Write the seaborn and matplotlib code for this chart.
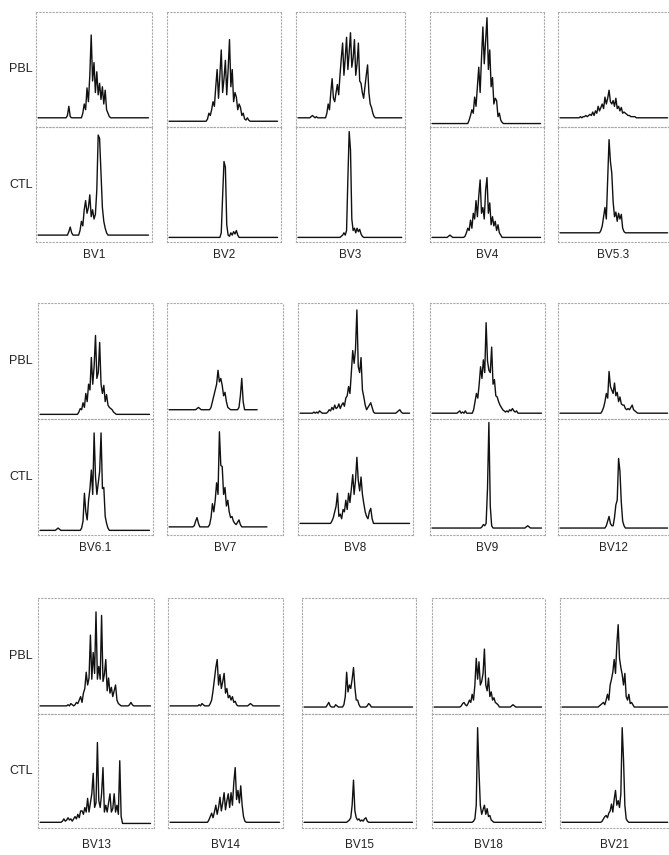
import numpy as np
import pandas as pd
import matplotlib
matplotlib.use("Agg")
import matplotlib.pyplot as plt
import seaborn as sns

# ---------------- data: trace heights (% of panel height) ----------------
bv1_pbl = [8,8,8,8,8,8,8,8,8,8, 8,8,8,8,8,8,8,8,8,8, 8,10,18,9,8,8,8,8,8,8,
           8,8,12,20,15,34,22,45,80,40, 56,30,48,28,38,24,35,20,32,15,
           12,9,8,8,8,8,8,8,8,8, 8,8,8,8,8,8,8,8,8,8, 8,8,8,8,8,8,8,8,8,8]
bv1_ctl = [6,6,6,6,6,6,6,6,6,6, 6,6,6,6,6,6,6,6,6,6, 6,6,9,13,8,6,6,6,6,6,
           10,18,14,28,36,25,30,41,22,28, 20,24,45,93,90,60,30,18,12,8,
           6,6,6,6,6,6,6,6,6,6, 6,6,6,6,6,6,6,6,6,6, 6,6,6,6,6,6,6,6,6,6]
bv2_pbl = [5,5,5,5,5,5,5,5,5,5, 5,5,5,5,5,5,5,5,5,5, 5,5,5,5,5,5,5,5,7,12,
           10,15,22,18,35,50,25,45,67,30, 42,58,28,50,76,35,50,22,30,26,
           15,20,17,10,12,7,6,8,6,5, 5,5,5,5,5,5,5,5,5,5, 5,5,5,5,5,5,5,5,5,5]
bv2_ctl = [4,4,4,4,4,4,4,4,4,4, 4,4,4,4,4,4,4,4,4,4, 4,4,4,4,4,4,4,4,4,4,
           4,4,4,4,4,4,4,4,8,40, 70,65,15,6,5,8,6,9,7,10,
           6,4,4,4,4,4,4,4,4,4, 4,4,4,4,4,4,4,4,4,4, 4,4,4,4,4,4,4,4,4,4]
bv3_pbl = [8,8,8,8,8,8,8,8,8,8, 9,10,9,8,9,8,8,8,8,8, 8,8,12,20,15,30,42,25,22,30,
           37,28,45,60,73,45,60,78,50,65, 82,52,60,76,45,55,73,40,38,30,
           25,35,45,54,30,20,17,12,9,8, 8,8,8,8,8,8,8,8,8,8, 8,8,8,8,8,8,8,8,8,8]
bv3_ctl = [4,4,4,4,4,4,4,4,4,4, 4,4,4,4,4,4,4,4,4,4, 4,4,4,4,4,4,4,4,4,4,
           4,4,4,5,6,8,6,10,55,96, 80,20,10,12,8,12,9,11,7,5,
           4,4,4,4,4,4,4,4,4,4, 4,4,4,4,4,4,4,4,4,4, 4,4,4,4,4,4,4,4,4,4]
bv4_pbl = [3,3,3,3,3,3,3,3,3,3, 3,3,3,3,3,3,3,3,3,3, 3,3,3,3,3,3,3,6,10,15,
           12,26,18,35,52,30,60,87,55,75, 95,50,67,35,43,20,25,23,9,12,
           6,4,3,3,3,3,3,3,3,3, 3,3,3,3,3,3,3,3,3,3, 3,3,3,3,3,3,3,3,3,3]
bv4_ctl = [4,4,4,4,4,4,4,4,4,4, 4,4,5,6,5,4,4,4,4,4, 4,4,4,4,5,8,12,10,19,12,
           25,20,36,22,40,54,25,30,20,45, 56,25,34,15,22,14,18,10,15,8,
           6,4,4,4,4,4,4,4,4,4, 4,4,4,4,4,4,4,4,4,4, 4,4,4,4,4,4,4,4,4,4]
bv53_pbl = [8,8,8,8,8,8,8,8,8,8, 8,8,8,8,8,9,8,9,9,10, 9,10,11,10,13,10,14,12,18,14,
            17,20,16,26,20,25,32,22,20,23, 18,25,16,18,14,17,12,13,12,11,
            10,10,9,9,9,9,8,8,8,8, 8,8,8,8,8,8,8,8,8,8, 8,8,8,8,8,8,8,8,8,8]
bv53_ctl = [8,8,8,8,8,8,8,8,8,8, 8,8,8,8,8,8,8,8,8,8, 8,8,8,8,8,8,8,8,8,8,
            10,14,22,30,20,55,89,70,60,35, 22,26,18,25,20,24,12,9,8,8,
            8,8,8,8,8,8,8,8,8,8, 8,8,8,8,8,8,8,8,8,8, 8,8,8,8,8,8,8,8,8,8]

bv61_pbl = [4,4,4,4,4,4,4,4,4,4, 4,4,4,4,4,4,4,4,4,4, 4,4,4,4,4,4,4,4,6,9,
            8,14,10,22,15,30,25,53,30,45, 72,35,40,66,30,22,29,15,21,12,
            10,9,8,6,5,4,4,4,4,4, 4,4,4,4,4,4,4,4,4,4, 4,4,4,4,4,4,4,4,4,4]
bv61_ctl = [4,4,4,4,4,4,4,4,4,4, 4,4,5,6,5,4,4,4,4,4, 4,4,4,4,4,4,4,4,4,4,
            6,12,36,20,13,30,40,56,35,88, 50,35,45,55,88,40,41,16,10,6,
            4,4,4,4,4,4,4,4,4,4, 4,4,4,4,4,4,4,4,4,4, 4,4,4,4,4,4,4,4,4,4]
bv7_pbl = [8,8,8,8,8,8,8,8,8,8, 8,8,8,8,8,8,8,8,8,8, 9,10,9,8,8,8,8,8,8,8,
           10,15,20,25,30,42,32,35,29,20, 23,15,10,9,8,8,8,8,8,8,
           10,20,35,15,8,8,8,8,8,8, 8,8,8,8]
bv7_ctl = [7,7,7,7,7,7,7,7,7,7, 7,7,7,7,7,7,7,7,8,12, 15,10,7,7,7,7,7,7,7,9,
           15,27,20,30,45,35,89,60,59,35, 41,25,30,20,15,16,12,10,9,11,
           13,9,7,7,7,7,7,7,7,7, 7,7,7,7,7,7,7,7,7,7, 7]
bv8_pbl = [5,5,5,5,5,5,5,5,5,5, 6,5,6,5,7,6,5,5,5,5, 6,8,7,10,8,12,9,10,13,9,
           12,14,11,18,20,28,22,40,59,48, 60,94,45,40,53,25,19,12,8,10,
           12,14,10,6,5,5,5,5,5,5, 5,5,5,5,5,5,5,5,5,5, 6,7,8,6,5,5,5,5,5,5]
bv8_ctl = [10,10,10,10,10,10,10,10,10,10, 10,10,10,10,10,10,10,10,10,10,
           10,10,10,12,15,20,25,36,16,18, 14,22,20,30,22,36,28,40,52,35,
           47,67,47,38,50,35,27,20,16,14, 20,23,14,10,10,10,10,10,10,10,
           10,10,10,10,10,10,10,10,10,10, 10,10,10,10,10,10,10,10,10,10]
bv9_pbl = [5,5,5,5,5,5,5,5,5,5, 5,5,5,5,5,5,5,5,5,6, 7,5,6,5,7,5,5,5,5,5,
           8,15,22,18,30,45,35,51,40,83, 50,42,40,62,30,34,20,19,15,12,
           10,8,7,6,7,6,8,7,9,7, 6,7,5,5,5,5,5,5,5,5, 5,5,5,5,5,5,5,5,5,5]
bv9_ctl = [6,6,6,6,6,6,6,6,6,6, 6,6,6,6,6,6,6,6,6,6, 6,6,6,6,6,6,6,6,6,6,
           6,6,6,6,6,6,7,9,8,10, 40,97,25,8,6,6,6,6,6,6,
           6,6,6,6,6,6,6,6,6,6, 6,6,6,6,6,6,6,6,7,8, 7,6,6,6,6,6,6,6,6,6]
bv12_pbl = [5,5,5,5,5,5,5,5,5,5, 5,5,5,5,5,5,5,5,5,5, 5,5,5,5,5,5,5,5,5,5,
            5,7,10,15,22,18,41,28,25,22, 31,20,23,15,19,13,12,12,9,8,
            9,8,10,12,8,7,6,5,5,5, 5,5,5,5,5,5,5,5,5,5, 5,5,5,5,5,5,5,5,5,5]
bv12_ctl = [6,6,6,6,6,6,6,6,6,6, 6,6,6,6,6,6,6,6,6,6, 6,6,6,6,6,6,6,6,6,6,
            6,6,6,6,8,12,16,10,8,8, 15,26,30,66,55,28,12,8,6,6,
            6,6,6,6,6,6,6,6,6,6, 6,6,6,6,6,6,6,6,6,6, 6,6,6,6,6,6,6,6,6,6]

bv13_pbl = [7,7,7,7,7,7,7,7,7,7, 7,7,7,7,7,7,7,7,7,7, 8,7,9,8,7,8,10,9,12,15,
            10,18,22,36,25,31,68,30,53,35, 88,30,41,30,85,28,34,47,20,31,
            18,23,15,20,25,12,9,8,7,7, 7,7,7,7,8,10,8,7,7,7, 7,7,7,7,7,7,7,7,7,7]
bv13_ctl = [5,5,5,5,5,5,5,5,5,5, 5,5,5,5,5,5,6,8,6,7, 9,7,8,6,8,10,8,12,9,15,
            15,12,18,14,26,14,22,30,48,18, 22,75,24,18,30,53,14,20,14,22,
            30,14,17,30,14,20,12,59,10,4, 4,4,4,4,4,4,4,4,4,4, 4,4,4,4,4,4,4,4,4,4]
bv14_pbl = [7,7,7,7,7,7,7,7,7,7, 7,7,7,7,7,7,7,7,7,7, 7,8,7,9,8,7,7,7,7,9,
            12,20,30,40,47,25,34,22,28,35, 18,22,14,16,12,15,10,11,8,7,
            7,7,7,7,7,7,7,8,9,8, 7,7,7,7,7,7,7,7,7,7, 7,7,7,7,7,7,7,7,7,7]
bv14_ctl = [5,5,5,5,5,5,5,5,5,5, 5,5,5,5,5,5,5,5,5,5, 5,5,5,5,5,5,5,5,7,10,
            13,9,14,20,12,18,27,15,22,31, 16,24,30,18,31,20,40,53,25,33,
            22,37,20,10,6,5,5,5,5,5, 5,5,5,5,5,5,5,5,5,5, 5,5,5,5,5,5,5,5,5,5]
bv15_pbl = [6,6,6,6,6,6,6,6,6,6, 6,6,6,6,6,6,6,8,10,7, 6,6,6,8,7,6,6,6,6,8,
            15,36,19,25,22,30,40,23,12,12, 8,6,6,6,6,6,7,9,8,6,
            6,6,6,6,6,6,6,6,6,6, 6,6,6,6,6,6,6,6,6,6, 6,6,6,6,6,6,6,6,6,6]
bv15_ctl = [5,5,5,5,5,5,5,5,5,5, 5,5,5,5,5,5,5,5,5,5, 5,5,5,5,5,5,5,5,5,5,
            5,5,6,7,9,20,42,15,9,7, 8,6,7,6,8,9,6,5,5,5,
            5,5,5,5,5,5,5,5,5,5, 5,5,5,5,5,5,5,5,5,5, 5,5,5,5,5,5,5,5,5,5]
bv18_pbl = [6,6,6,6,6,6,6,6,6,6, 6,6,6,6,6,6,6,6,6,6, 7,9,10,8,7,9,12,10,17,12,
            25,48,30,45,25,28,35,56,25,20, 31,15,19,12,14,10,9,8,6,6,
            6,6,6,6,6,6,6,7,8,7, 6,6,6,6,6,6,6,6,6,6, 6,6,6,6,6,6,6,6,6,6]
bv18_ctl = [5,5,5,5,5,5,5,5,5,5, 5,5,5,5,5,5,5,5,5,5, 5,5,5,5,5,5,5,5,5,6,
            8,20,88,50,20,12,16,20,12,17, 10,11,7,6,5,5,5,5,5,5,
            5,5,5,5,5,5,5,5,5,5, 5,5,5,5,5,5,5,5,5,5, 5,5,5,5,5,5,5,5,5,5]
bv21_pbl = [6,6,6,6,6,6,6,6,6,6, 6,6,6,6,6,6,6,6,6,6, 6,6,6,6,6,6,6,6,7,8,
            9,10,8,12,17,12,25,30,36,47, 35,60,77,48,40,34,25,35,15,12,
            17,9,10,8,6,6,6,6,6,6, 6,6,6,6,6,6,6,6,6,6, 6,6,6,6,6,6,6,6,6,6]
bv21_ctl = [5,5,5,5,5,5,5,5,5,5, 5,5,5,5,5,5,5,5,5,5, 5,5,5,5,5,5,5,5,5,5,
            6,8,10,11,9,13,15,21,14,25, 33,20,24,18,30,88,60,20,8,6,
            5,5,5,5,5,5,5,5,5,5, 5,5,5,5,5,5,5,5,5,5, 5,5,5,5,5,5,5,5,5,5]

group1_labels = ["BV1", "BV2", "BV3", "BV4", "BV5.3"]
group2_labels = ["BV6.1", "BV7", "BV8", "BV9", "BV12"]
group3_labels = ["BV13", "BV14", "BV15", "BV18", "BV21"]
row_labels = ["PBL", "CTL"]

group1_pbl = [bv1_pbl, bv2_pbl, bv3_pbl, bv4_pbl, bv53_pbl]
group1_ctl = [bv1_ctl, bv2_ctl, bv3_ctl, bv4_ctl, bv53_ctl]
group2_pbl = [bv61_pbl, bv7_pbl, bv8_pbl, bv9_pbl, bv12_pbl]
group2_ctl = [bv61_ctl, bv7_ctl, bv8_ctl, bv9_ctl, bv12_ctl]
group3_pbl = [bv13_pbl, bv14_pbl, bv15_pbl, bv18_pbl, bv21_pbl]
group3_ctl = [bv13_ctl, bv14_ctl, bv15_ctl, bv18_ctl, bv21_ctl]

# ---------------- layout (pixels) ----------------
W, H = 669, 855
sns.set_style("white")
plt.rcParams["font.family"] = ["Liberation Sans", "DejaVu Sans"]

fig = plt.figure(figsize=(W / 100, H / 100), dpi=100)

groups = [
    dict(labels=group1_labels, pbl=group1_pbl, ctl=group1_ctl,
         cols=[(36, 152), (167, 281), (296, 405), (430, 544), (558, 671)],
         top=12, mid=127, bot=242, lab_y=255),
    dict(labels=group2_labels, pbl=group2_pbl, ctl=group2_ctl,
         cols=[(38, 153), (167, 283), (298, 413), (430, 545), (558, 671)],
         top=303, mid=419, bot=535, lab_y=548),
    dict(labels=group3_labels, pbl=group3_pbl, ctl=group3_ctl,
         cols=[(38, 154), (168, 283), (302, 416), (432, 545), (560, 671)],
         top=598, mid=714, bot=828, lab_y=845),
]

spine_color = "#a8a8a8"


def make_ax(x0, x1, ytop, ybot):
    ax = fig.add_axes([x0 / W, 1 - ybot / H, (x1 - x0) / W, (ybot - ytop) / H])
    ax.set_xlim(-1.5, 81.5)
    ax.set_ylim(0, 100)
    ax.set_xticks([])
    ax.set_yticks([])
    ax.patch.set_alpha(0)
    for s in ax.spines.values():
        s.set_visible(True)
        s.set_color(spine_color)
        s.set_linewidth(0.8)
        s.set_linestyle((0, (1, 2)))
    return ax


def draw_trace(ax, values):
    df = pd.DataFrame({"pos": np.arange(len(values)), "signal": values})
    sns.lineplot(data=df, x="pos", y="signal", ax=ax, color="#111111",
                 linewidth=1.0, estimator=None)
    ax.set_xlabel("")
    ax.set_ylabel("")


for g in groups:
    for (x0, x1), lab, vp, vc in zip(g["cols"], g["labels"], g["pbl"], g["ctl"]):
        ax_top = make_ax(x0, x1, g["top"], g["mid"])
        draw_trace(ax_top, vp)
        ax_bot = make_ax(x0, x1, g["mid"], g["bot"])
        draw_trace(ax_bot, vc)
        fig.text(((x0 + min(x1, 669)) / 2) / W, 1 - g["lab_y"] / H, lab,
                 ha="center", va="center", fontsize=8.5, color="#222222")
    fig.text(33 / W, 1 - ((g["top"] + g["mid"]) / 2) / H, row_labels[0],
             ha="right", va="center", fontsize=9, color="#222222")
    fig.text(33 / W, 1 - ((g["mid"] + g["bot"]) / 2) / H, row_labels[1],
             ha="right", va="center", fontsize=9, color="#222222")

fig.savefig("out.png", dpi=100, facecolor="white")
